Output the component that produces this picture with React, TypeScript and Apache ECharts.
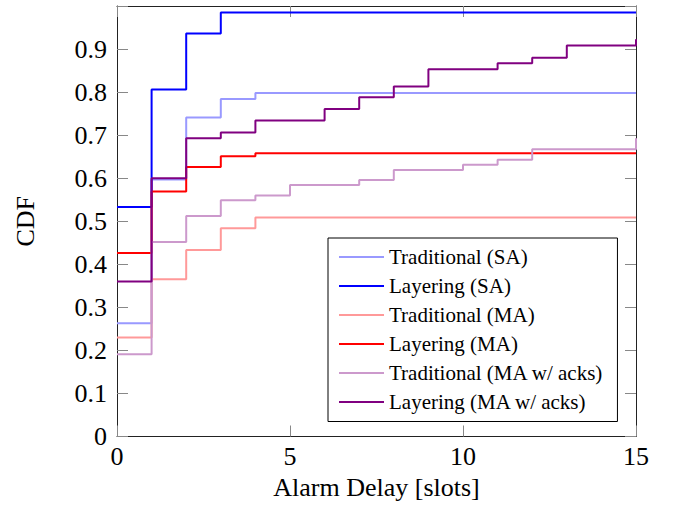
import React, { useEffect, useRef } from "react";
import * as echarts from "echarts";

const delays = [0, 1, 2, 3, 4, 5, 6, 7, 8, 9, 10, 11, 12, 13, 14, 15];
const seriesNames = [
  "Traditional (SA)",
  "Layering (SA)",
  "Traditional (MA)",
  "Layering (MA)",
  "Traditional (MA w/ acks)",
  "Layering (MA w/ acks)",
];
const tradSA = [0.263, 0.597, 0.741, 0.784, 0.798, 0.798, 0.798, 0.798, 0.798, 0.798, 0.798, 0.798, 0.798, 0.798, 0.798, 0.798];
const layerSA = [0.533, 0.806, 0.936, 0.985, 0.985, 0.985, 0.985, 0.985, 0.985, 0.985, 0.985, 0.985, 0.985, 0.985, 0.985, 0.985];
const tradMA = [0.23, 0.365, 0.433, 0.484, 0.509, 0.509, 0.509, 0.509, 0.509, 0.509, 0.509, 0.509, 0.509, 0.509, 0.509, 0.509];
const layerMA = [0.426, 0.569, 0.626, 0.651, 0.658, 0.658, 0.658, 0.658, 0.658, 0.658, 0.658, 0.658, 0.658, 0.658, 0.658, 0.658];
const tradMAack = [0.191, 0.452, 0.512, 0.549, 0.56, 0.584, 0.584, 0.596, 0.619, 0.619, 0.631, 0.643, 0.667, 0.667, 0.667, 0.693];
const layerMAack = [0.36, 0.6, 0.693, 0.706, 0.734, 0.734, 0.761, 0.788, 0.813, 0.853, 0.853, 0.867, 0.88, 0.908, 0.908, 0.923];

const seriesValues = [tradSA, layerSA, tradMA, layerMA, tradMAack, layerMAack];
const seriesColors = ["#9999ff", "#0000ff", "#ff9999", "#ff0000", "#cc99cc", "#800080"];

const FONT = "Liberation Serif";

export default function App() {
  const ref = useRef<HTMLDivElement>(null);
  useEffect(() => {
    if (!ref.current) return;
    const chart = echarts.init(ref.current, null, { renderer: "svg" });
    const tickStyle = { color: "#888", width: 1 };
    const lineStyleAxis = { color: "#222", width: 1 };
    chart.setOption({
      animation: false,
      backgroundColor: "#fff",
      textStyle: { fontFamily: FONT },
      grid: { left: 117, right: 39, top: 6, bottom: 73.5, containLabel: false },
      legend: {
        orient: "vertical",
        left: 328,
        top: 238,
        itemWidth: 45,
        itemHeight: 20,
        itemGap: 8,
        padding: [8.5, 14, 9, 10],
        borderColor: "#000",
        borderWidth: 1,
        backgroundColor: "#fff",
        itemStyle: { opacity: 0 },
        lineStyle: { width: 2 },
        textStyle: { fontFamily: FONT, fontSize: 21, color: "#000" },
        data: seriesNames,
      },
      xAxis: [
        {
          type: "value",
          min: 0,
          max: 15,
          interval: 5,
          name: "Alarm Delay [slots]",
          nameLocation: "middle",
          nameGap: 37,
          nameTextStyle: { fontFamily: FONT, fontSize: 26, color: "#000" },
          axisLine: { show: true, onZero: false, lineStyle: lineStyleAxis },
          axisTick: { show: true, inside: true, length: 11, lineStyle: tickStyle },
          axisLabel: { fontFamily: FONT, fontSize: 26, color: "#000", margin: 7 },
          splitLine: { show: false },
        },
        {
          type: "value",
          position: "top",
          min: 0,
          max: 15,
          interval: 5,
          axisLine: { show: true, onZero: false, lineStyle: lineStyleAxis },
          axisTick: { show: true, inside: true, length: 11, lineStyle: tickStyle },
          axisLabel: { show: false },
          splitLine: { show: false },
        },
      ],
      yAxis: [
        {
          type: "value",
          min: 0,
          max: 1,
          interval: 0.1,
          name: "CDF",
          nameLocation: "middle",
          nameGap: 79,
          nameRotate: 90,
          nameTextStyle: { fontFamily: FONT, fontSize: 26, color: "#000" },
          axisLine: { show: true, onZero: false, lineStyle: lineStyleAxis },
          axisTick: { show: true, inside: true, length: 11, lineStyle: tickStyle },
          axisLabel: {
            fontFamily: FONT,
            fontSize: 26,
            color: "#000",
            margin: 10,
            formatter: (v: number) => (v > 0.95 ? "" : v === 0 ? "0" : v.toFixed(1)),
          },
          splitLine: { show: false },
        },
        {
          type: "value",
          position: "right",
          min: 0,
          max: 1,
          interval: 0.1,
          axisLine: { show: true, onZero: false, lineStyle: lineStyleAxis },
          axisTick: { show: true, inside: true, length: 11, lineStyle: tickStyle },
          axisLabel: { show: false },
          splitLine: { show: false },
        },
      ],
      series: seriesNames.map((name, i) => ({
        name,
        type: "line",
        step: "end",
        xAxisIndex: 0,
        yAxisIndex: 0,
        symbol: "none",
        color: seriesColors[i],
        lineStyle: { color: seriesColors[i], width: 2 },
        data: delays.map((d, j) => [d, seriesValues[i][j]]),
      })),
    });
    return () => chart.dispose();
  }, []);
  return (
    <div
      ref={ref}
      style={{ position: "fixed", left: 0, top: 0, width: 675, height: 510, background: "#fff" }}
    />
  );
}
